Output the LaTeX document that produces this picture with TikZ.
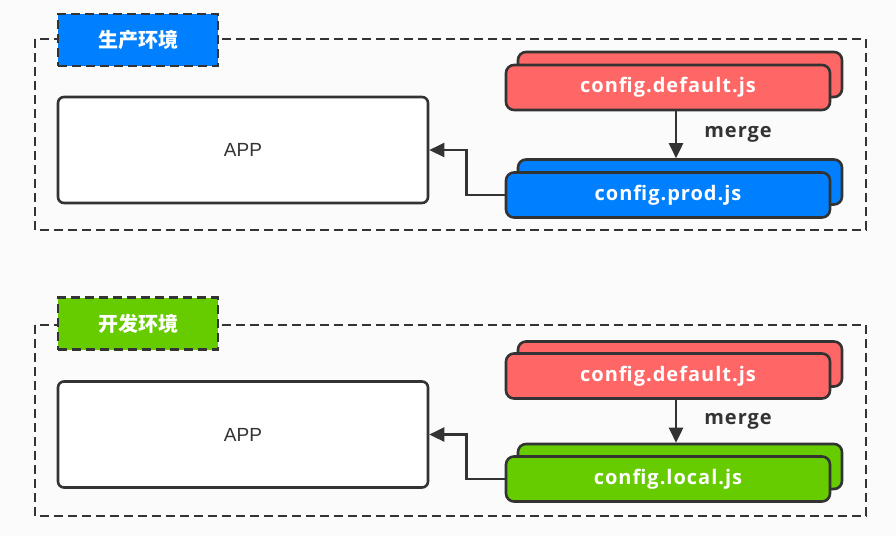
\documentclass[tikz,border=0pt]{standalone}
\usepackage{fontspec}
\setmainfont{Open Sans}
\newfontfamily\cjk{Noto Sans CJK SC}
\newfontfamily\appfont{Liberation Sans}
\newfontfamily\cfgfont[LetterSpace=5]{Open Sans}
\usetikzlibrary{positioning,arrows.meta}
\definecolor{ink}{RGB}{51,51,51}
\definecolor{cred}{RGB}{255,102,102}
\definecolor{cblue}{RGB}{0,128,255}
\definecolor{cgreen}{RGB}{102,204,0}
\definecolor{paper}{RGB}{251,251,251}
\tikzset{
  frame/.style={draw=ink,line width=2.6pt,dash pattern=on 9pt off 5pt},
  envlabel/.style={frame,minimum width=160pt,minimum height=52pt,text=white,font=\cjk\bfseries\fontsize{20}{20}\selectfont},
  appbox/.style={draw=ink,line width=2.6pt,rounded corners=6pt,fill=white,minimum width=370pt,minimum height=106pt,text=ink,font=\appfont\fontsize{19}{19}\selectfont},
  cfgbox/.style={draw=ink,line width=2.6pt,rounded corners=8pt,minimum width=324pt,minimum height=45pt,text=white,font=\cfgfont\bfseries\fontsize{20}{20}\selectfont},
  link/.style={draw=ink,line width=2.6pt,-{Triangle[length=15pt,width=14pt]}},
  mergelabel/.style={text=ink,inner sep=0pt,font=\cfgfont\bfseries\fontsize{20}{20}\selectfont}
}
\begin{document}
\begin{tikzpicture}[x=1pt,y=-1pt]
  \fill[paper] (0,0) rectangle (896,536);
  \useasboundingbox (0,0) rectangle (896,536);

  % production environment
  \draw[frame] (35,39) rectangle (866,230);
  \node[envlabel,fill=cblue] (prodenv) at (138,40) {生产环境};
  \node[appbox] (app1) at (243,150) {APP};
  \node[cfgbox,fill=cred] (defB1) at (680,74.5) {};
  \node[cfgbox,fill=cred] (defF1) at (668,87.5) {config.default.js};
  \node[cfgbox,fill=cblue] (prodB) at (680,182) {};
  \node[cfgbox,fill=cblue] (prodF) at (668,195) {config.prod.js};
  \draw[link] ([xshift=8pt]defF1.south) -- node[right=27pt,mergelabel] (merge1) {merge} ([xshift=-4pt]prodB.north);
  \draw[link] (prodF.west) -- ++(-38,0) |- (app1.east);

  % development environment
  \draw[frame] (35,325) rectangle (866,516);
  \node[envlabel,fill=cgreen] (devenv) at (138,323.5) {开发环境};
  \node[appbox] (app2) at (243,434.5) {APP};
  \node[cfgbox,fill=cred] (defB2) at (680,364) {};
  \node[cfgbox,fill=cred] (defF2) at (668,376) {config.default.js};
  \node[cfgbox,fill=cgreen] (localB) at (680,466.5) {};
  \node[cfgbox,fill=cgreen] (localF) at (668,479) {config.local.js};
  \draw[link] ([xshift=8pt]defF2.south) -- node[right=27pt,mergelabel] (merge2) {merge} ([xshift=-4pt]localB.north);
  \draw[link] (localF.west) -- ++(-38,0) |- (app2.east);
\end{tikzpicture}
\end{document}
